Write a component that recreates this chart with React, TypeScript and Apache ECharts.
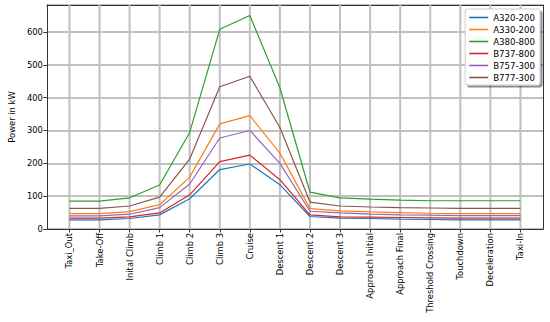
import React, { useEffect, useRef } from "react";
import * as echarts from "echarts";

const phases = [
  "Taxi_Out", "Take-Off", "Inital Climb", "Climb 1", "Climb 2", "Climb 3", "Cruise",
  "Descent 1", "Descent 2", "Descent 3", "Approach Initial", "Approach Final",
  "Threshold Crossing", "Touchdown", "Deceleration", "Taxi-In",
];
const a320 = [28, 28, 32, 43, 92, 181, 198, 135, 38, 33, 32, 30, 29, 28, 28, 28];
const a330 = [47, 47, 53, 74, 158, 320, 345, 231, 62, 55, 52, 50, 48, 47, 47, 47];
const a380 = [85, 85, 95, 134, 294, 608, 650, 430, 112, 95, 91, 88, 86, 86, 86, 86];
const b737 = [33, 33, 37, 49, 104, 205, 225, 150, 43, 37, 36, 35, 34, 33, 33, 33];
const b757 = [40, 40, 45, 65, 137, 277, 300, 200, 54, 49, 45, 43, 42, 41, 41, 41];
const b777 = [63, 63, 70, 97, 213, 433, 465, 309, 82, 70, 67, 65, 64, 63, 63, 63];
const yTicks = [0, 100, 200, 300, 400, 500, 600];

const seriesDefs = [
  { name: "A320-200", data: a320, color: "#1f77b4" },
  { name: "A330-200", data: a330, color: "#ff7f0e" },
  { name: "A380-800", data: a380, color: "#2ca02c" },
  { name: "B737-800", data: b737, color: "#d62728" },
  { name: "B757-300", data: b757, color: "#9467bd" },
  { name: "B777-300", data: b777, color: "#8c564b" },
];

const FONT = "DejaVu Sans";
const GRID_COLOR = "#c0c0c0";
const FRAME = "#333";

export default function App() {
  const ref = useRef<HTMLDivElement>(null);
  useEffect(() => {
    if (!ref.current) return;
    const chart = echarts.init(ref.current, undefined, { renderer: "svg" });
    const idx = phases.map((_, i) => i);
    const xMin = -0.75;
    const xMax = phases.length - 1 + 0.75;
    const yMax = 682;
    chart.setOption({
      animation: false,
      backgroundColor: "#ffffff",
      textStyle: { fontFamily: FONT },
      grid: { left: 36, top: 5, right: 7, bottom: 93 },
      legend: {
        orient: "vertical",
        right: 10, top: 9,
        icon: "rect",
        itemWidth: 19, itemHeight: 1.6, itemGap: 3,
        padding: [4, 5, 3, 4],
        backgroundColor: "#fff",
        borderColor: "#ccc", borderWidth: 1, borderRadius: 2,
        shadowColor: "rgba(0,0,0,0.45)", shadowBlur: 0, shadowOffsetX: 2, shadowOffsetY: 2,
        textStyle: { fontFamily: FONT, fontSize: 8.6, color: "#000" },
        data: seriesDefs.map((s) => s.name),
      },
      xAxis: [
        {
          type: "value",
          min: xMin, max: xMax,
          axisLine: { show: true, onZero: false, lineStyle: { color: FRAME, width: 1 } },
          axisTick: { show: true, customValues: idx, length: 3.5, lineStyle: { color: FRAME } },
          axisLabel: {
            customValues: idx,
            rotate: 90,
            fontFamily: FONT, fontSize: 8.4, color: "#000", margin: 4,
            formatter: (v: number) => phases[Math.round(v)] ?? "",
          },
          splitLine: { show: false },
        },
        {
          type: "value",
          position: "top",
          min: xMin, max: xMax,
          axisLine: { show: true, onZero: false, lineStyle: { color: FRAME, width: 1 } },
          axisTick: { show: false },
          axisLabel: { show: false },
          splitLine: { show: false },
        },
      ],
      yAxis: [
        {
          type: "value",
          min: 0, max: yMax, interval: 100,
          name: "Power in kW",
          nameLocation: "middle",
          nameGap: 30,
          nameTextStyle: { fontFamily: FONT, fontSize: 8.4, color: "#000" },
          axisLine: { show: true, onZero: false, lineStyle: { color: FRAME, width: 1 } },
          axisTick: { show: true, length: 3.5, lineStyle: { color: FRAME } },
          axisLabel: {
            fontFamily: FONT, fontSize: 8.4, color: "#000", margin: 4,
            showMaxLabel: false,
          },
          splitLine: { show: true, lineStyle: { color: GRID_COLOR, width: 2, type: "solid" } },
        },
        {
          type: "value",
          position: "right",
          min: 0, max: yMax,
          axisLine: { show: true, onZero: false, lineStyle: { color: FRAME, width: 1 } },
          axisTick: { show: false },
          axisLabel: { show: false },
          splitLine: { show: false },
        },
      ],
      series: [
        ...seriesDefs.map((s) => ({
          name: s.name,
          type: "line",
          z: 3,
          data: s.data.map((v, i) => [i, v]),
          showSymbol: false,
          symbol: "none",
          color: s.color,
          lineStyle: { color: s.color, width: 1.2 },
        })),
        {
          name: "grid-x",
          type: "line",
          z: 1,
          silent: true,
          symbol: "none",
          showSymbol: false,
          color: GRID_COLOR,
          lineStyle: { color: GRID_COLOR, width: 2 },
          connectNulls: false,
          data: idx.flatMap((i) => [[i, 0], [i, yMax], [i, null]]),
        },
      ],
    });

    return () => chart.dispose();
  }, []);
  return (
    <div
      ref={ref}
      style={{ position: "fixed", left: 0, top: 0, width: 550, height: 322 }}
    />
  );
}
